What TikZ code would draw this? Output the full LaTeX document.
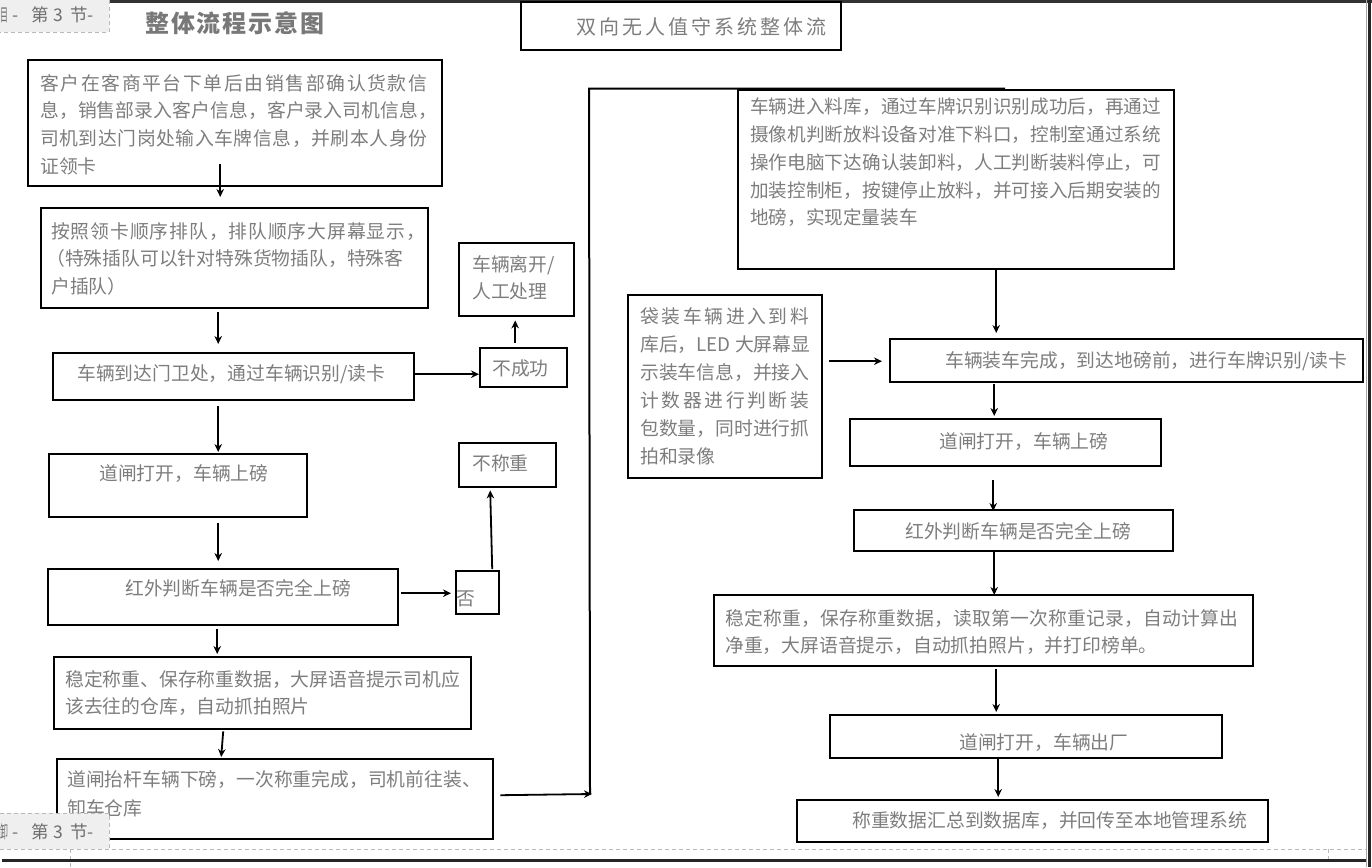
\documentclass[tikz,border=0pt]{standalone}
\usepackage{fontspec}
\usepackage{graphicx}
\setmainfont{Noto Sans CJK SC}
\usetikzlibrary{arrows.meta}
\definecolor{tgray}{RGB}{125,125,125}
\definecolor{tabfill}{RGB}{239,239,239}
\definecolor{tabtext}{RGB}{110,110,110}
\definecolor{dashgray}{RGB}{185,185,185}
\newcommand\strutA{\rule{0pt}{22pt}}
\makeatletter
\newcommand\jl[2]{\hbox to #1pt{\jl@a#2\relax}}
\def\jl@a#1{\ifx#1\relax\else#1\expandafter\jl@b\fi}
\def\jl@b#1{\ifx#1\relax\else\hfil#1\expandafter\jl@b\fi}
\makeatother
\begin{document}
\begin{tikzpicture}[x=1pt,y=-1pt,
  box/.style={draw, line width=2.4pt, inner sep=0pt, anchor=north west},
  arr/.style={line width=1.8pt, -{Stealth[length=8pt,width=7.5pt]}},
  txt/.style={inner sep=0pt, anchor=north west, align=left, text=tgray, yshift=-7pt,
    font=\fontsize{18.8}{27.7}\selectfont, execute at begin node=\strutA},
  stxt/.style={inner sep=0pt, anchor=base west, text=tgray,
    font=\fontsize{18.8}{27.7}\selectfont},
  tab/.style={inner sep=0pt, text=tabtext, font=\fontsize{17.5}{20}\selectfont}]
\useasboundingbox (0,0) rectangle (1372,867);

% ---- page frame ----
\draw[line width=2.6pt, black!80] (108,1.3) -- (1372,1.3);
\draw[line width=0.6pt, black!35] (1366.3,0) -- (1366.3,867);
\draw[line width=3pt, black!85] (1369.5,0) -- (1369.5,867);
\draw[dashgray, line width=0.8pt, dash pattern=on 4pt off 3pt] (0,849) -- (1366,849);
\draw[dashgray, line width=0.8pt, dash pattern=on 4pt off 3pt] (70,849) -- (70,867);
\draw[dashgray, line width=0.8pt, dash pattern=on 4pt off 3pt] (1328,849) -- (1328,862);
\draw[line width=2.5pt, black!85] (2,860.5) -- (1366,860.5);

% ---- titles ----
\node[box, minimum width=320pt, minimum height=48pt] (T) at (520,1) {};
\node[stxt, font=\fontsize{20}{24}\selectfont] (Tt) at (576,34.5) {\jl{250}{双向无人值守系统整体流}};
\node[stxt, text={rgb,255:red,120;green,120;blue,120}, font=\fontsize{24}{28}\selectfont\bfseries] (title) at (145,33) {\jl{179}{整体流程示意图}};

% ---- left column boxes ----
\node[box, minimum width=414pt, minimum height=126pt] (A) at (27,59) {};
\node[txt] (At) at (40,67) {\jl{387}{客户在客商平台下单后由销售部确认货款信}\\
\jl{397}{息，销售部录入客户信息，客户录入司机信息，}\\
\jl{387}{司机到达门岗处输入车牌信息，并刷本人身份}\\
证领卡};

\node[box, minimum width=387pt, minimum height=100pt] (B) at (40,207) {};
\node[txt] (Bt) at (51,215) {\jl{374}{按照领卡顺序排队，排队顺序大屏幕显示，}\\
\hspace*{-5pt}（特殊插队可以针对特殊货物插队，特殊客\\
户插队）};

\node[box, minimum width=361pt, minimum height=47pt] (C) at (52,352) {};
\node[stxt] (Ct) at (77,380) {车辆到达门卫处，通过车辆识别/读卡};

\node[box, minimum width=115pt, minimum height=73pt] (LV) at (458,242) {};
\node[txt] (LVt) at (472,248) {车辆离开/\\人工处理};

\node[box, minimum width=87pt, minimum height=39pt] (FL) at (479,347) {};
\node[stxt] (FLt) at (492,375) {不成功};

\node[box, minimum width=258pt, minimum height=63pt] (D) at (48,453) {};
\node[stxt] (Dt) at (99,480) {道闸打开，车辆上磅};

\node[box, minimum width=350pt, minimum height=56pt] (E) at (47,568) {};
\node[stxt] (Et) at (125,595) {红外判断车辆是否完全上磅};

\node[box, minimum width=43pt, minimum height=43pt] (NO) at (455,570) {};
\node[stxt] (NOt) at (456,605) {否};

\node[box, minimum width=97pt, minimum height=44pt] (NW) at (458,442) {};
\node[stxt] (NWt) at (472,470) {不称重};

\node[box, minimum width=417pt, minimum height=72pt] (F) at (53,656) {};
\node[txt] (Ft) at (65,663) {稳定称重、保存称重数据，大屏语音提示司机应\\
该去往的仓库，自动抓拍照片};

\node[box, minimum width=436pt, minimum height=80pt] (G) at (56,758) {};
\node[txt, font=\fontsize{18.8}{29}\selectfont] (Gt) at (67,763) {道闸抬杆车辆下磅，一次称重完成，司机前往装、\\
卸车仓库};

% ---- right column boxes ----
\node[box, minimum width=436pt, minimum height=179pt] (H) at (737,89) {};
\node[txt, font=\fontsize{18.6}{27.75}\selectfont] (Ht) at (750,91) {\jl{411}{车辆进入料库，通过车牌识别识别成功后，再通过}\\
\jl{411}{摄像机判断放料设备对准下料口，控制室通过系统}\\
\jl{411}{操作电脑下达确认装卸料，人工判断装料停止，可}\\
\jl{411}{加装控制柜，按键停止放料，并可接入后期安装的}\\
地磅，实现定量装车};

\node[box, minimum width=194pt, minimum height=183pt] (I) at (627,294) {};
\node[txt, font=\fontsize{18.8}{28}\selectfont] (It) at (640,300) {\jl{169}{袋装车辆进入到料}\\
库后，LED 大屏幕显\\
\jl{169}{示装车信息，并接入}\\
\jl{169}{计数器进行判断装}\\
\jl{169}{包数量，同时进行抓}\\
拍和录像};

\node[box, minimum width=473pt, minimum height=43pt] (J) at (889,338) {};
\node[stxt] (Jt) at (945,367) {车辆装车完成，到达地磅前，进行车牌识别/读卡};

\node[box, minimum width=311pt, minimum height=47pt] (K) at (849,418) {};
\node[stxt] (Kt) at (939,448) {道闸打开，车辆上磅};

\node[box, minimum width=319pt, minimum height=41pt] (L) at (853,509) {};
\node[stxt] (Lt) at (905,538) {红外判断车辆是否完全上磅};

\node[box, minimum width=539pt, minimum height=71pt] (M) at (713,594) {};
\node[txt] (Mt) at (725,602) {\jl{513}{稳定称重，保存称重数据，读取第一次称重记录，自动计算出}\\
净重，大屏语音提示，自动抓拍照片，并打印榜单。};

\node[box, minimum width=392pt, minimum height=43pt] (N) at (829,714) {};
\node[stxt] (Nt) at (959,749) {道闸打开，车辆出厂};

\node[box, minimum width=471pt, minimum height=42pt] (O) at (796,799) {};
\node[stxt] (Ot) at (852,827) {称重数据汇总到数据库，并回传至本地管理系统};

% ---- connectors ----
\draw[arr] ([xshift=-15pt,yshift=23pt]A.south) -- ([xshift=-14.5pt,yshift=10pt]B.north);
\draw[arr] ([xshift=-16.5pt,yshift=-3pt]B.south) -- ([xshift=-15.5pt,yshift=8pt]C.north);
\draw[arr] ([yshift=2.5pt]C.east) -- ([yshift=-6.5pt]FL.west);
\draw[arr] ([xshift=-8.5pt,yshift=4pt]FL.north) -- ([xshift=-1.5pt,yshift=-3pt]LV.south);
\draw[arr] ([xshift=-15.5pt,yshift=-5pt]C.south) -- ([xshift=40pt,yshift=1pt]D.north);
\draw[arr] ([xshift=40pt,yshift=-5pt]D.south) -- ([xshift=-5pt,yshift=7pt]E.north);
\draw[arr] ([xshift=2pt,yshift=4pt]E.east) -- ([xshift=-4pt,yshift=-0.5pt]NO.west);
\draw[arr] ([xshift=14.5pt,yshift=1pt]NO.north) -- ([xshift=-17.5pt,yshift=-2pt]NW.south);
\draw[arr] ([xshift=-6pt,yshift=-3pt]E.south) -- ([xshift=-45.5pt,yshift=2pt]F.north);
\draw[arr] ([xshift=-39.5pt,yshift=-1pt]F.south) -- ([xshift=-54pt,yshift=1pt]G.north);
\coordinate (V1) at (590,794);
\coordinate (V2) at (589,88.5);
\coordinate (V3) at (1005,88.5);
\draw[arr] ([xshift=6pt,yshift=4pt]G.east) -- ([xshift=2pt]V1);
\draw[line width=2pt] (V1) -- (V2) -- (V3);
\draw[arr] ([xshift=40pt]H.south) -- ([xshift=-130.5pt,yshift=5pt]J.north);
\draw[arr] ([xshift=6pt,yshift=25.5pt]I.east) -- ([xshift=-7pt,yshift=-0.5pt]J.west);
\draw[arr] ([xshift=-132.5pt,yshift=-1pt]J.south) -- ([xshift=-11.5pt,yshift=2pt]K.north);
\draw[arr] ([xshift=-12.5pt,yshift=-13pt]K.south) -- ([xshift=-20.5pt,yshift=-2pt]L.north);
\draw[arr] ([xshift=-19.5pt,yshift=1pt]L.south) -- ([xshift=10.5pt,yshift=-1pt]M.north);
\draw[arr] ([xshift=12.5pt,yshift=-2pt]M.south) -- ([xshift=-30pt,yshift=2pt]N.north);
\draw[arr] ([xshift=-28pt,yshift=2pt]N.south) -- ([xshift=-34.5pt,yshift=2pt]O.north);

% ---- header / footer tabs ----
\fill[tabfill] (0,0) rectangle (109,32);
\draw[dashgray, line width=0.8pt, dash pattern=on 4pt off 3pt] (109,0) -- (109,32) -- (0,32);
\node[tab, anchor=base west] (hd1) at (0.3,21.6) {\scalebox{0.45}[1]{目}};
\node[tab, anchor=base west] (hd2) at (12,21.6) {-\hspace{13pt}第\hspace{4.5pt}3\hspace{7.4pt}节-};
\fill[tabfill] (0,813) rectangle (109,849);
\draw[dashgray, line width=0.8pt, dash pattern=on 4pt off 3pt] (0,813) -- (109,813) -- (109,849);
\node[tab, anchor=base west] (ft1) at (0.3,838.6) {\scalebox{0.45}[1]{卸}};
\node[tab, anchor=base west] (ft2) at (12,838.6) {-\hspace{13pt}第\hspace{4.5pt}3\hspace{7.4pt}节-};
\end{tikzpicture}
\end{document}
